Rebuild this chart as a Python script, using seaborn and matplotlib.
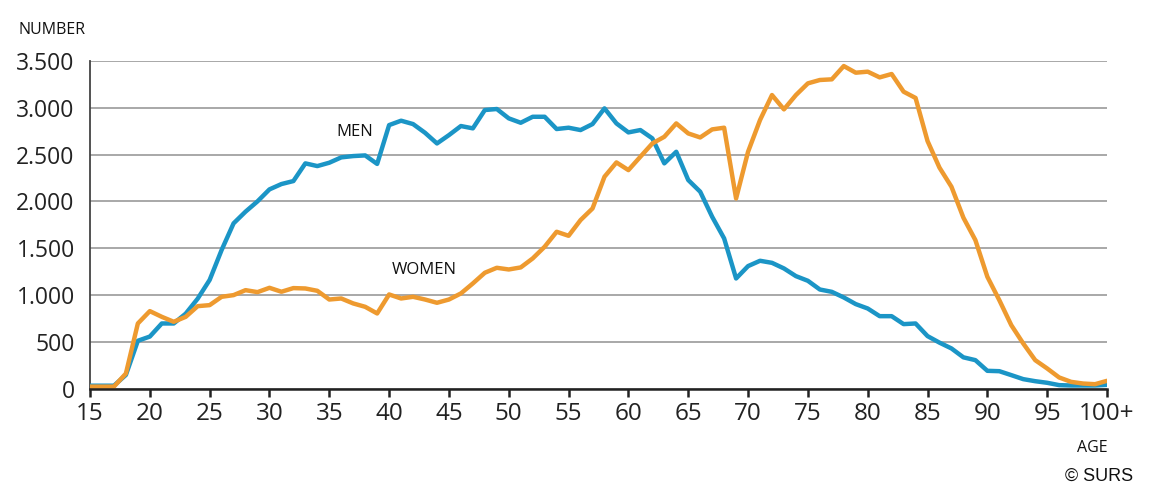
import numpy as np
import pandas as pd
import matplotlib
matplotlib.use("Agg")
import matplotlib.pyplot as plt
import seaborn as sns

ages = list(range(15, 101))
men = [30, 30, 30, 145, 510, 555, 695, 695, 800, 960,
       1160, 1480, 1765, 1890, 2000, 2128, 2185, 2217, 2406, 2377,
       2413, 2470, 2484, 2491, 2400, 2815, 2862, 2826, 2733, 2619,
       2708, 2805, 2780, 2976, 2987, 2887, 2840, 2904, 2904, 2773,
       2787, 2762, 2826, 2994, 2833, 2737, 2762, 2673, 2406, 2530,
       2228, 2103, 1835, 1604, 1176, 1308, 1365, 1343, 1283, 1201,
       1151, 1058, 1033, 973, 902, 855, 773, 773, 688, 695,
       560, 490, 428, 333, 303, 189, 185, 143, 100, 78,
       61, 36, 32, 32, 32, 39]
women = [20, 20, 20, 160, 695, 827, 766, 713, 766, 880,
         891, 980, 998, 1051, 1030, 1076, 1034, 1073, 1069, 1044,
         951, 962, 909, 873, 802, 1005, 962, 980, 951, 916,
         951, 1016, 1123, 1237, 1290, 1272, 1294, 1390, 1515, 1675,
         1632, 1800, 1924, 2263, 2416, 2334, 2477, 2619, 2690, 2833,
         2726, 2683, 2769, 2787, 2031, 2530, 2869, 3136, 2983, 3136,
         3261, 3297, 3304, 3446, 3375, 3386, 3325, 3361, 3172, 3105,
         2645, 2360, 2156, 1825, 1586, 1194, 944, 677, 481, 303,
         214, 118, 71, 53, 46, 82]

xtick_vals = list(range(15, 101, 5))
xtick_labels = [str(v) for v in range(15, 100, 5)] + ["100+"]
ytick_vals = list(range(0, 3501, 500))
ytick_labels = ["0", "500", "1.000", "1.500", "2.000", "2.500", "3.000", "3.500"]

df = pd.DataFrame({
    "age": ages * 2,
    "number": men + women,
    "sex": ["MEN"] * len(ages) + ["WOMEN"] * len(ages),
})

sns.set_theme(style="white")
plt.rcParams['font.family'] = ['Open Sans', 'DejaVu Sans']

fig = plt.figure(figsize=(11.53, 4.94), dpi=100)
ax = fig.add_axes([90/1153, 1 - 388.5/494, (1107 - 90)/1153, (388.5 - 61)/494])

palette = {"MEN": "#1b95c6", "WOMEN": "#ee9a2f"}
sns.lineplot(data=df, x="age", y="number", hue="sex", palette=palette,
             linewidth=3.2, ax=ax, legend=False, zorder=3)

ax.set_xlim(15, 100)
ax.set_ylim(0, 3500)
ax.set_yticks(ytick_vals)
ax.set_yticklabels(ytick_labels, fontsize=16.5, color="#222222")
ax.set_xticks(xtick_vals)
ax.set_xticklabels(xtick_labels, fontsize=17.5, color="#222222")
ax.grid(axis="y", color="#a8a8a8", linewidth=1.4, zorder=0)
ax.grid(axis="x", visible=False)
ax.set_xlabel("")
ax.set_ylabel("")

for s in ["top", "right"]:
    ax.spines[s].set_visible(False)
ax.spines["left"].set_color("#444444")
ax.spines["left"].set_linewidth(1.3)
ax.spines["bottom"].set_color("#222222")
ax.spines["bottom"].set_linewidth(1.8)
ax.spines["bottom"].set_zorder(4)
ax.tick_params(axis="x", direction="out", length=6, width=1.8, color="#222222", pad=4,
               bottom=True)
ax.tick_params(axis="y", length=0, pad=11)

fig.text(18/1153, 1 - 30/494, "NUMBER", fontsize=11.5, va="center", ha="left", color="#111111")
ax.text(355/1153, 1 - 132/494, "MEN", transform=fig.transFigure, fontsize=12,
        ha="center", va="center", color="#111111")
ax.text(424/1153, 1 - 270/494, "WOMEN", transform=fig.transFigure, fontsize=12,
        ha="center", va="center", color="#111111")
fig.text(1092/1153, 1 - 448/494, "AGE", fontsize=11.5, ha="center", va="center", color="#111111")
fig.text(1099/1153, 1 - 476/494, "© SURS", fontsize=13, ha="center", va="center",
         color="#111111", family=["Liberation Sans", "DejaVu Sans"])

fig.savefig("out.png", dpi=100, facecolor="white")
